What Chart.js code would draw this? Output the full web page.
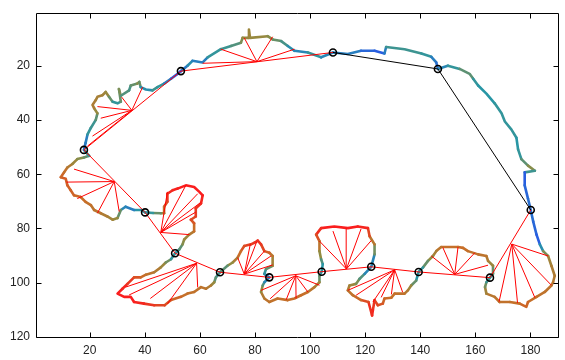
<!DOCTYPE html>
<html>
<head>
<meta charset="utf-8">
<script src="https://cdn.jsdelivr.net/npm/chart.js@4"></script>
<style>
  html, body { margin: 0; padding: 0; background: #fff; }
  canvas { display: block; }
</style>
</head>
<body>
<canvas id="shapeChart" width="565" height="360"></canvas>
<script>
// Tick labels
const xTicks = [20, 40, 60, 80, 100, 120, 140, 160, 180];
const yTicks = [20, 40, 60, 80, 100, 120];

// Boundary of the shape (image coords), with a colour value 0 (blue) .. 1 (red)
const contourX = [
  53.1, 55.5, 57.3, 61, 62.8, 67.6, 71.3, 74.9, 75.5, 77.5, 77.8, 78.2, 84.6, 86.4, 89.5, 91.9, 94.3, 99.2, 104, 108.3,
  113.7, 118.5, 123.4, 127, 127.6, 134.3, 140.4, 144, 145.8, 146.4,
  150, 154.3, 157.9, 159.2, 161, 164, 167, 169.5, 170.7, 173.1, 174.9, 175.5, 176.7, 179.1, 181.6, 177.9, 177.9, 179.1, 180.1,
  181, 182.2, 183.4, 184.6, 186.4, 187.6, 188.8, 188.2, 187.6, 185.2, 182.2, 179.1, 178.5, 176.1, 172.5, 168.8, 167, 164, 163.5, 164, 165.3,
  166.4, 166.4, 164.6, 164, 161, 157.3, 155.5, 153.7, 147.6, 145.8, 144.6, 142.8, 141, 139.4,
  138.5, 136.7, 135.5, 134.3, 130.7, 129.5, 127, 126.4, 124.6, 123.4, 122.8, 122.5, 121.2, 118.5, 115.5, 113.7, 114.3, 116.7, 117.9, 119.8, 122.2,
  123.4, 123.4, 121.6, 121, 117.3, 113.7, 108.8, 104, 102.2, 103.4, 103.4, 104, 104.6, 104.2,
  103.4, 103.4, 101.6, 99.2, 96.7, 94.3, 91.9, 88.2, 85.2, 83.4, 82.2, 82.8, 83.4, 85.2,
  83.4, 84, 86.4, 86.4, 85.2, 83.4, 82.2, 81, 79.8, 78.5, 76.1, 74.9, 73.7, 71.9, 70, 67.3,
  65.8, 65.2, 64, 62.2, 60.4, 57.9, 55.5, 53.1, 49.5, 47.2, 43.4, 39.7, 36.1, 34.9, 32.5, 30.1, 31.9, 33.7, 36.1, 38.5, 40.4, 43.4, 45.8, 47.6, 49.5, 51,
  52.5, 53.7, 54.3, 56.1, 57.9, 57.9, 56.7, 58.5, 58.5, 60.4, 61, 59.8, 57.9, 54.9, 51.9, 50.1, 48.2, 48.2, 47, 47, 45.8, 43, 40.1,
  38.5, 36.1, 33, 31.3, 30.1, 28.3, 26.4, 24, 21.6, 20.4, 18.5, 16.7, 14.3, 13.1, 11.9, 11.3, 9.5, 10.7, 11.9, 13.7, 15.5, 17.9, 19.8, 17.9,
  18.5, 19.2, 20.4, 22.2, 22.8, 21.6, 21, 22.2, 22.8, 24.6, 25.8, 27, 28.3, 30.1, 31.3, 30.6, 31.3, 34.3, 34.9, 37.3, 38, 38.5, 40.4, 42.8, 44.6, 47, 49.5, 51.9, 53.1
];
const contourY = [
  21.9, 19.9, 18.1, 18.7, 16.8, 13.8, 12.6, 11.4, 9.6, 9.6, 6.5, 9.6, 9, 10.2, 10.8, 12.6, 14.4, 15, 16.8, 15,
  15.6, 14.4, 14.4, 15.4, 13, 13.8, 15.4, 16.6, 18.7, 21.1,
  19.9, 21.1, 22.9, 24.7, 27.2, 30.2, 33.8, 37.5, 40.5, 43.5, 46.5, 50.8, 54.4, 56.8, 58.7, 59.3, 64.1, 69, 73.2,
  77.5, 82.3, 85.9, 88.4, 90.2, 93.8, 97.5, 99.9, 101.1, 103.5, 105.3, 107.2, 109, 107.8, 107.2, 107.2, 105.3, 104.1, 101.7, 99.9, 98.2,
  96.8, 93.8, 92, 90.2, 89.6, 88.4, 87.2, 86.9, 86.9, 88.4, 90.2, 92, 94.4, 96.1,
  99.3, 101.1, 102.9, 104.1, 104.1, 105.6, 105.9, 107.8, 108.4, 106.5, 110.2, 112.2, 107.2, 106.5, 104.7, 102.9, 101.1, 100.5, 98.7, 96.8, 94.2,
  89.6, 85.9, 82.9, 79.9, 79.3, 79.9, 79.3, 79.9, 82.3, 84.7, 88.4, 91.4, 93.2, 96,
  97.5, 99.9, 101.7, 103.5, 104.7, 105.9, 106.5, 105.9, 107.2, 105.9, 103.5, 101.1, 99.9, 98.1,
  96.8, 95, 93.8, 90.2, 89, 88.4, 85.9, 84.5, 85.3, 85.9, 86.5, 88.4, 90.8, 92.6, 93.8, 96.2,
  98.1, 99.9, 101.1, 102.3, 101.7, 103.5, 104.1, 105.3, 106.5, 108.4, 108.4, 107.8, 107.2, 105.3, 105.3, 104.1, 102.3, 100.5, 98.1, 98.1, 97.1, 96.2, 94.4, 92.6, 91.4, 89.2,
  87.8, 85.9, 84.1, 82.3, 81.1, 78.1, 76.8, 75.6, 72.6, 70.8, 67.8, 66.5, 64.7, 64.1, 65.3, 65.9, 67.2, 70.2, 72, 74.4, 74.4, 74.3, 74.1,
  73.2, 73.2, 72, 73.2, 76.2, 76.8, 75.6, 74.4, 73.2, 71.4, 70.2, 68.4, 67.8, 65.9, 64.1, 61.7, 61.1, 59.3, 57.5, 56.2, 54.4, 53.8, 53.2, 51,
  48.4, 45.3, 42.9, 39.9, 37.5, 35.6, 34.4, 32.6, 31.4, 30.8, 29.6, 31.4, 33.2, 33.8, 33.2, 28.5, 31, 29, 27.2, 26.5, 25.9, 27.8, 28.7, 29, 27.8, 26.5, 24.7, 22.9, 21.9
];
const contourV = [
  0.1, 0.2, 0.25, 0.1, 0.25, 0.3, 0.3, 0.4, 0.5, 0.55, 0.55, 0.55, 0.5, 0.45, 0.35, 0.3, 0.15, 0.25, 0.3, 0.1,
  0.25, 0.1, 0.1, 0.05, 0.3, 0.3, 0.3, 0.25, 0.1, 0.15,
  0.25, 0.3, 0.45, 0.3, 0.25, 0.25, 0.25, 0.3, 0.25, 0.3, 0.25, 0.25, 0.3, 0.45, 0.5, 0.1, 0.05, 0.15, 0.1,
  0.15, 0.05, 0.1, 0.35, 0.55, 0.6, 0.65, 0.65, 0.7, 0.7, 0.72, 0.75, 0.8, 0.75, 0.72, 0.72, 0.7, 0.65, 0.5, 0.35, 0.25,
  0.3, 0.5, 0.6, 0.68, 0.72, 0.72, 0.75, 0.75, 0.72, 0.65, 0.55, 0.45, 0.35, 0.2,
  0.3, 0.5, 0.6, 0.7, 0.72, 0.75, 0.75, 0.8, 0.85, 0.9, 0.95, 1, 0.9, 0.8, 0.72, 0.7, 0.6, 0.5, 0.4, 0.3, 0.1,
  0.3, 0.55, 0.8, 0.95, 1, 1, 1, 1, 0.9, 0.78, 0.6, 0.4, 0.3, 0.2,
  0.3, 0.5, 0.65, 0.72, 0.75, 0.75, 0.75, 0.72, 0.72, 0.68, 0.6, 0.4, 0.3, 0.1,
  0.25, 0.3, 0.5, 0.65, 0.75, 0.85, 0.9, 0.95, 0.95, 0.9, 0.88, 0.8, 0.7, 0.55, 0.45, 0.3,
  0.3, 0.45, 0.6, 0.68, 0.7, 0.72, 0.72, 0.75, 0.8, 0.85, 0.9, 0.95, 1, 1, 1, 1, 1, 0.95, 0.88, 0.8, 0.72, 0.68, 0.6, 0.5, 0.35, 0.2,
  0.3, 0.45, 0.5, 0.6, 0.7, 0.8, 0.85, 0.88, 0.92, 0.95, 1, 1, 1, 1, 1, 0.98, 0.95, 0.9, 0.8, 0.65, 0.5, 0.3, 0.25,
  0.25, 0.25, 0.1, 0.3, 0.5, 0.55, 0.6, 0.65, 0.7, 0.7, 0.75, 0.75, 0.78, 0.78, 0.8, 0.8, 0.8, 0.75, 0.7, 0.6, 0.5, 0.45, 0.35, 0.2,
  0.1, 0.25, 0.3, 0.3, 0.45, 0.6, 0.65, 0.6, 0.6, 0.6, 0.55, 0.5, 0.3, 0.25, 0.3, 0.5, 0.4, 0.3, 0.35, 0.45, 0.5, 0.3, 0.15, 0.3, 0.3, 0.25, 0.1, 0.05, 0.1
];

// Polygon vertices (circles), in order round the shape
const hullX = [108.3, 146.4, 180.1, 165.3, 139.4, 122.2, 104.2, 85.2, 67.3, 51, 40.1, 17.9, 53.1];
const hullY = [15, 21.1, 73.2, 98.2, 96.1, 94.2, 96, 98.1, 96.2, 89.2, 74.1, 51, 21.9];
// edges drawn black (no concavity); every other edge is red
const blackEdges = [0, 1];

// Fan centres on the red edges and the boundary points they reach
const fanX = [173.2, 152.5, 130.7, 113.2, 94.8, 76.1, 58.8, 45.8, 28.9, 35.3, 80.7];
const fanY = [85.8, 97, 95.3, 95, 97.5, 96.9, 92.9, 81.5, 62.7, 36.4, 18.4];
const rayFan = [
  0, 0, 0, 0, 0,
  1, 1, 1, 1, 1,
  2, 2, 2, 2, 2, 2,
  3, 3, 3, 3, 3,
  4, 4, 4, 4, 4, 4,
  5, 5, 5, 5, 5, 5,
  6, 6, 6, 6, 6,
  7, 7, 7, 7, 7, 7,
  8, 8, 8, 8, 8,
  9, 9, 9, 9, 9, 9,
  10, 10, 10, 10, 10
];
const rayX = [
  168.6, 175.3, 181.6, 187.6, 186.4,
  144, 148.2, 153.7, 159.8, 164.6,
  113.7, 116.7, 122.8, 125.8, 129.5, 133.6,
  103.4, 108.3, 113.1, 118.5, 122.2,
  82.2, 85.5, 91.3, 94.9, 99.2, 103.4,
  73.7, 78.3, 80.6, 83.4, 85.8, 86.4,
  33, 34.3, 42, 48.2, 59.2,
  48.2, 54.9, 59.2, 60.2, 58.5, 56.1,
  14.3, 11.6, 15.5, 22.8, 30.7,
  22.8, 24, 21, 19.2, 31.6, 39.2,
  61, 67.6, 76.1, 86.4, 94.3
];
const rayY = [
  107.1, 107.5, 105.6, 101, 90.2,
  90.2, 87.1, 86.9, 89, 93.6,
  102.9, 104.7, 107.2, 105.5, 104.4, 103.6,
  84.7, 81, 80, 80.2, 84.5,
  102.9, 106, 106.4, 105.9, 103.5, 101,
  90.8, 85.8, 85, 88.4, 90.2, 93.5,
  101.7, 104.6, 105.9, 107.9, 101.8,
  66.5, 64.1, 67.2, 70.5, 74, 82.3,
  58.1, 62.9, 69, 74.4, 73.8,
  35, 39.3, 45.9, 49.6, 31.5, 27.8,
  19, 13.8, 9.6, 9.2, 13.8
];

// colour map for the boundary value
const stops = [
  [0, [40, 70, 250]],
  [0.25, [40, 150, 165]],
  [0.5, [145, 140, 65]],
  [0.75, [200, 110, 40]],
  [1, [250, 30, 30]]
];
function cmap(v) {
  for (let i = 1; i < stops.length; i++) {
    if (v <= stops[i][0]) {
      const [a, ca] = stops[i - 1];
      const [b, cb] = stops[i];
      const t = (v - a) / (b - a);
      const c = ca.map((k, j) => Math.round(k + (cb[j] - k) * t));
      return `rgb(${c[0]},${c[1]},${c[2]})`;
    }
  }
  return "rgb(250,30,30)";
}

const gap = { x: null, y: null };

const contourData = contourX.map((x, i) => ({ x, y: contourY[i] }));

const redData = [];
hullX.forEach((x, i) => {
  if (blackEdges.includes(i)) return;
  const j = (i + 1) % hullX.length;
  redData.push({ x, y: hullY[i] }, { x: hullX[j], y: hullY[j] }, gap);
});
rayX.forEach((x, i) => {
  const f = rayFan[i];
  redData.push({ x: fanX[f], y: fanY[f] }, { x, y: rayY[i] }, gap);
});

const blackData = [];
blackEdges.forEach((i) => {
  const j = (i + 1) % hullX.length;
  blackData.push({ x: hullX[i], y: hullY[i] }, { x: hullX[j], y: hullY[j] }, gap);
});

const hullData = hullX.map((x, i) => ({ x, y: hullY[i] }));

// box with inward ticks, like the original axes
const boxPlugin = {
  id: "box",
  afterDraw(chart) {
    const { ctx, chartArea: a, scales } = chart;
    ctx.save();
    ctx.strokeStyle = "#000";
    ctx.lineWidth = 1;
    const L = Math.round(a.left) + 0.5, R = Math.round(a.right) - 0.5;
    const T = Math.round(a.top) + 0.5, B = Math.round(a.bottom) - 0.5;
    ctx.beginPath();
    ctx.rect(L, T, R - L, B - T);
    xTicks.forEach((v) => {
      const p = Math.round(scales.x.getPixelForValue(v)) + 0.5;
      ctx.moveTo(p, B); ctx.lineTo(p, B - 5);
      ctx.moveTo(p, T); ctx.lineTo(p, T + 5);
    });
    yTicks.forEach((v) => {
      const p = Math.round(scales.y.getPixelForValue(v)) + 0.5;
      ctx.moveTo(L, p); ctx.lineTo(L + 5, p);
      ctx.moveTo(R, p); ctx.lineTo(R - 5, p);
    });
    ctx.stroke();
    ctx.restore();
  }
};

const tickFont = { family: "Liberation Sans, Arial, sans-serif", size: 12 };

new Chart(document.getElementById("shapeChart").getContext("2d"), {
  type: "line",
  data: {
    datasets: [
      {
        label: "vertices",
        data: hullData,
        showLine: false,
        pointRadius: 3.5,
        pointBorderWidth: 1.6,
        pointBorderColor: "#000",
        pointBackgroundColor: "rgba(0,0,0,0)",
        order: 0
      },
      {
        label: "hull",
        data: blackData,
        borderColor: "#000",
        borderWidth: 1,
        pointRadius: 0,
        spanGaps: false,
        order: 1
      },
      {
        label: "fans",
        data: redData,
        borderColor: "#ff0000",
        borderWidth: 1,
        pointRadius: 0,
        spanGaps: false,
        order: 2
      },
      {
        label: "boundary",
        data: contourData,
        borderWidth: 2.6,
        pointRadius: 0,
        borderCapStyle: "round",
        borderJoinStyle: "round",
        segment: {
          borderColor: (c) => cmap((contourV[c.p0DataIndex] + contourV[c.p1DataIndex]) / 2)
        },
        order: 3
      }
    ]
  },
  options: {
    responsive: false,
    animation: false,
    layout: { padding: { top: 8, right: 5, left: 0, bottom: 0 } },
    plugins: { legend: { display: false }, tooltip: { enabled: false } },
    scales: {
      x: {
        type: "linear",
        min: 0.5,
        max: 190.5,
        afterBuildTicks: (s) => { s.ticks = xTicks.map((v) => ({ value: v })); },
        afterFit: (s) => { s.height = 22; },
        grid: { display: false, drawTicks: false },
        border: { display: false },
        ticks: { font: tickFont, color: "#222", padding: 5, maxRotation: 0 }
      },
      y: {
        type: "linear",
        reverse: true,
        min: 0.5,
        max: 120.5,
        afterBuildTicks: (s) => { s.ticks = yTicks.map((v) => ({ value: v })); },
        afterFit: (s) => { s.width = 36; },
        grid: { display: false, drawTicks: false },
        border: { display: false },
        ticks: { font: tickFont, color: "#222", padding: 6 }
      }
    }
  },
  plugins: [boxPlugin]
});
</script>
</body>
</html>
